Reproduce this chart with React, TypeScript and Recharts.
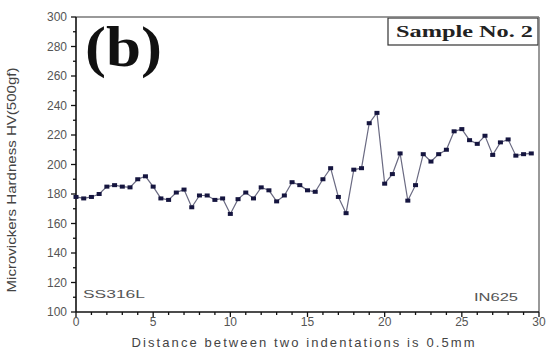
import React from "react";
import {
  LineChart,
  Line,
  XAxis,
  YAxis,
  ReferenceLine,
  Customized,
} from "recharts";

// distance (units of 0.5 mm steps) and hardness readings
const DISTANCE = [
  0, 0.5, 1, 1.5, 2, 2.5, 3, 3.5, 4, 4.5, 5, 5.5, 6, 6.5, 7, 7.5, 8, 8.5, 9,
  9.5, 10, 10.5, 11, 11.5, 12, 12.5, 13, 13.5, 14, 14.5, 15, 15.5, 16, 16.5,
  17, 17.5, 18, 18.5, 19, 19.5, 20, 20.5, 21, 21.5, 22, 22.5, 23, 23.5, 24,
  24.5, 25, 25.5, 26, 26.5, 27, 27.5, 28, 28.5, 29, 29.5,
];
const HARDNESS = [
  178, 177, 178, 180, 185, 186, 185, 184.5, 190, 192, 185, 177, 176, 181, 183,
  171, 179, 179, 176, 177, 166.5, 176.5, 181, 177, 184.5, 182.5, 175, 179, 188,
  186, 182.5, 181.5, 190, 197.5, 178, 167, 196.5, 197.5, 228, 235, 187, 193.5,
  207.5, 175.5, 186, 207, 202, 207, 210, 222.5, 224, 216.5, 214, 219.5, 206.5,
  215, 217, 206, 207, 207.5,
];
const X_TICKS = [
  0, 1, 2, 3, 4, 5, 6, 7, 8, 9, 10, 11, 12, 13, 14, 15, 16, 17, 18, 19, 20, 21,
  22, 23, 24, 25, 26, 27, 28, 29, 30,
];
const Y_TICKS = [
  100, 110, 120, 130, 140, 150, 160, 170, 180, 190, 200, 210, 220, 230, 240,
  250, 260, 270, 280, 290, 300,
];

const data = DISTANCE.map((d, i) => ({ d, hv: HARDNESS[i] }));

const SANS = "'Liberation Sans', Arial, sans-serif";
const SERIF = "'Liberation Serif', 'Times New Roman', serif";

const XTick = (props: any) => {
  const { x, y, payload } = props;
  const major = payload.value % 5 === 0;
  return (
    <g>
      <line x1={x} x2={x} y1={y} y2={y + (major ? 5 : 3)} stroke="#111" strokeWidth={1.3} />
      {major && (
        <text x={x} y={y + 14} textAnchor="middle" fontSize={12} fill="#555" fontFamily={SANS}>
          {payload.value}
        </text>
      )}
    </g>
  );
};

const YTick = (props: any) => {
  const { x, y, payload } = props;
  const major = payload.value % 20 === 0;
  return (
    <g>
      <line x1={x - (major ? 5 : 3)} x2={x} y1={y} y2={y} stroke="#111" strokeWidth={1.3} />
      {major && (
        <text x={x - 9} y={y + 4} textAnchor="end" fontSize={12} fill="#555" fontFamily={SANS}>
          {payload.value}
        </text>
      )}
    </g>
  );
};

const SquareDot = (props: any) => {
  const { cx, cy, index } = props;
  return <rect key={index} x={cx - 2.5} y={cy - 2} width={5} height={4} fill="#15153f" />;
};

const Annotations = () => (
  <g>
    <text
      x={85}
      y={66}
      fontSize={56}
      fontWeight="bold"
      fontFamily={SERIF}
      fill="#111"
      textLength={77}
      lengthAdjust="spacingAndGlyphs"
    >
      (b)
    </text>
    <rect x={388} y={18} width={150} height={27} fill="#fff" stroke="#333" strokeWidth={1.2} />
    <text
      x={396}
      y={37}
      fontSize={16}
      fontWeight="bold"
      fontFamily={SERIF}
      fill="#222"
      textLength={137}
      lengthAdjust="spacingAndGlyphs"
    >
      Sample No. 2
    </text>
    <text x={83} y={298} fontSize={11} fontFamily={SANS} fill="#555" textLength={62} lengthAdjust="spacingAndGlyphs">
      SS316L
    </text>
    <text x={474} y={301} fontSize={11} fontFamily={SANS} fill="#555" textLength={44} lengthAdjust="spacingAndGlyphs">
      IN625
    </text>
    <text
      x={16}
      y={180}
      transform="rotate(-90 16 180)"
      textAnchor="middle"
      fontSize={12}
      fontFamily={SANS}
      fill="#444"
      textLength={225}
      lengthAdjust="spacingAndGlyphs"
    >
      Microvickers Hardness HV(500gf)
    </text>
    <text
      x={303}
      y={347}
      textAnchor="middle"
      fontSize={13}
      fontFamily={SANS}
      fill="#444"
      textLength={343}
      lengthAdjust="spacing"
    >
      Distance between two indentations is 0.5mm
    </text>
  </g>
);

export default function App() {
  return (
    <div style={{ position: "absolute", left: 0, top: 0, width: 550, height: 358, background: "#fff" }}>
      <LineChart
        width={550}
        height={358}
        data={data}
        margin={{ top: 17, right: 11, bottom: 0, left: 0 }}
      >
        <ReferenceLine y={300} stroke="#777" strokeWidth={1.5} />
        <ReferenceLine x={30} stroke="#777" strokeWidth={1.5} />
        <XAxis
          dataKey="d"
          type="number"
          domain={[0, 30]}
          ticks={X_TICKS}
          interval={0}
          height={46}
          tickSize={0}
          tickMargin={0}
          tick={<XTick />}
          axisLine={{ stroke: "#111", strokeWidth: 1.6 }}
          tickLine={false}
        />
        <YAxis
          type="number"
          domain={[100, 300]}
          ticks={Y_TICKS}
          interval={0}
          width={76}
          tickSize={0}
          tickMargin={0}
          tick={<YTick />}
          axisLine={{ stroke: "#111", strokeWidth: 1.6 }}
          tickLine={false}
        />
        <Line
          type="linear"
          dataKey="hv"
          stroke="#6a6a82"
          strokeWidth={1.2}
          dot={<SquareDot />}
          activeDot={false}
          isAnimationActive={false}
        />
        <Customized component={<Annotations />} />
      </LineChart>
    </div>
  );
}
